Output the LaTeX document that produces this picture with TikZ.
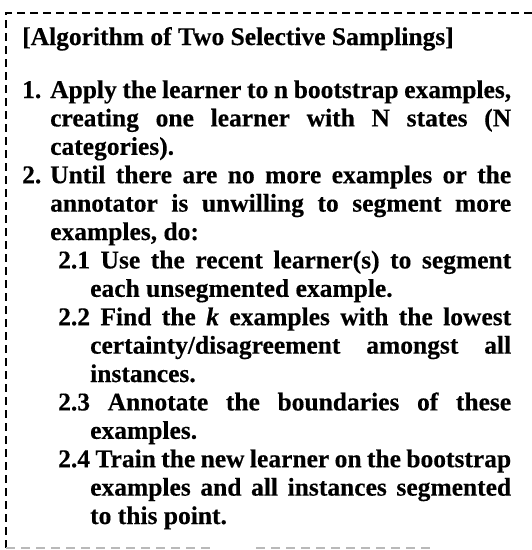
\documentclass[tikz,border=0pt]{standalone}
\usepackage{fontspec}
\setmainfont{Liberation Serif}[BoldFeatures={FakeBold=0.35},BoldItalicFeatures={FakeBold=0.35}]
\begin{document}
\begin{tikzpicture}[x=1pt,y=-1pt,
  txt/.style={anchor=base west, inner sep=0pt, font=\bfseries\fontsize{25.5}{28}\selectfont},
  frame/.style={line width=2pt, dash pattern=on 8pt off 5pt},
  lowframe/.style={line width=1.6pt, gray!55, dash pattern=on 9pt off 6pt}]
\useasboundingbox (0,0) rectangle (532,550);
\fill[white] (0,0) rectangle (532,550);
% dashed frame: top and left in black, bottom lighter and broken
\coordinate (tr) at (532,13);
\coordinate (tl) at (6,13);
\coordinate (bl) at (6,548);
\coordinate (b1) at (210,548);
\coordinate (b2) at (256,548);
\coordinate (b3) at (430,548);
\draw[frame] (tr) -- (tl) -- (bl);
\draw[lowframe] (bl) -- (b1);
\draw[lowframe] (b2) -- (b3);
% one justified line, starting at (#3,#4) and ending at the right margin
\newcommand\jline[5][s]{\node[txt] (#2) at (#3,#4) {\makebox[\dimexpr511pt-#3pt\relax][#1]{#5}};}
\node[txt] (title) at (22,45) {[Algorithm of Two Selective Samplings]};
\node[txt] (n1) at (22,98) {1.};
\jline{l1a}{50}{98}{Apply the learner to n bootstrap examples,}
\jline{l1b}{50}{126.4}{creating one learner with N states (N}
\node[txt] (l1c) at (50,154.8) {categories).};
\node[txt] (n2) at (22,183.2) {2.};
\jline{l2a}{50}{183.2}{Until there are no more examples or the}
\jline{l2b}{50}{211.6}{annotator is unwilling to segment more}
\node[txt] (l2c) at (50,240) {examples, do:};
\jline{s1a}{58}{268.4}{2.1 Use the recent learner(s) to segment}
\node[txt] (s1b) at (90,296.8) {each unsegmented example.};
\jline{s2a}{58}{325.2}{2.2 Find the \textit{k} examples with the lowest}
\jline{s2b}{90}{353.6}{certainty/disagreement amongst all}
\node[txt] (s2c) at (90,382) {instances.};
\jline{s3a}{58}{410.4}{2.3 Annotate the boundaries of these}
\node[txt] (s3b) at (90,438.8) {examples.};
\jline{s4a}{58}{467.2}{2.4 Train the new learner on the bootstrap}
\jline{s4b}{90}{495.6}{examples and all instances segmented}
\node[txt] (s4c) at (90,524) {to this point.};
\end{tikzpicture}
\end{document}
